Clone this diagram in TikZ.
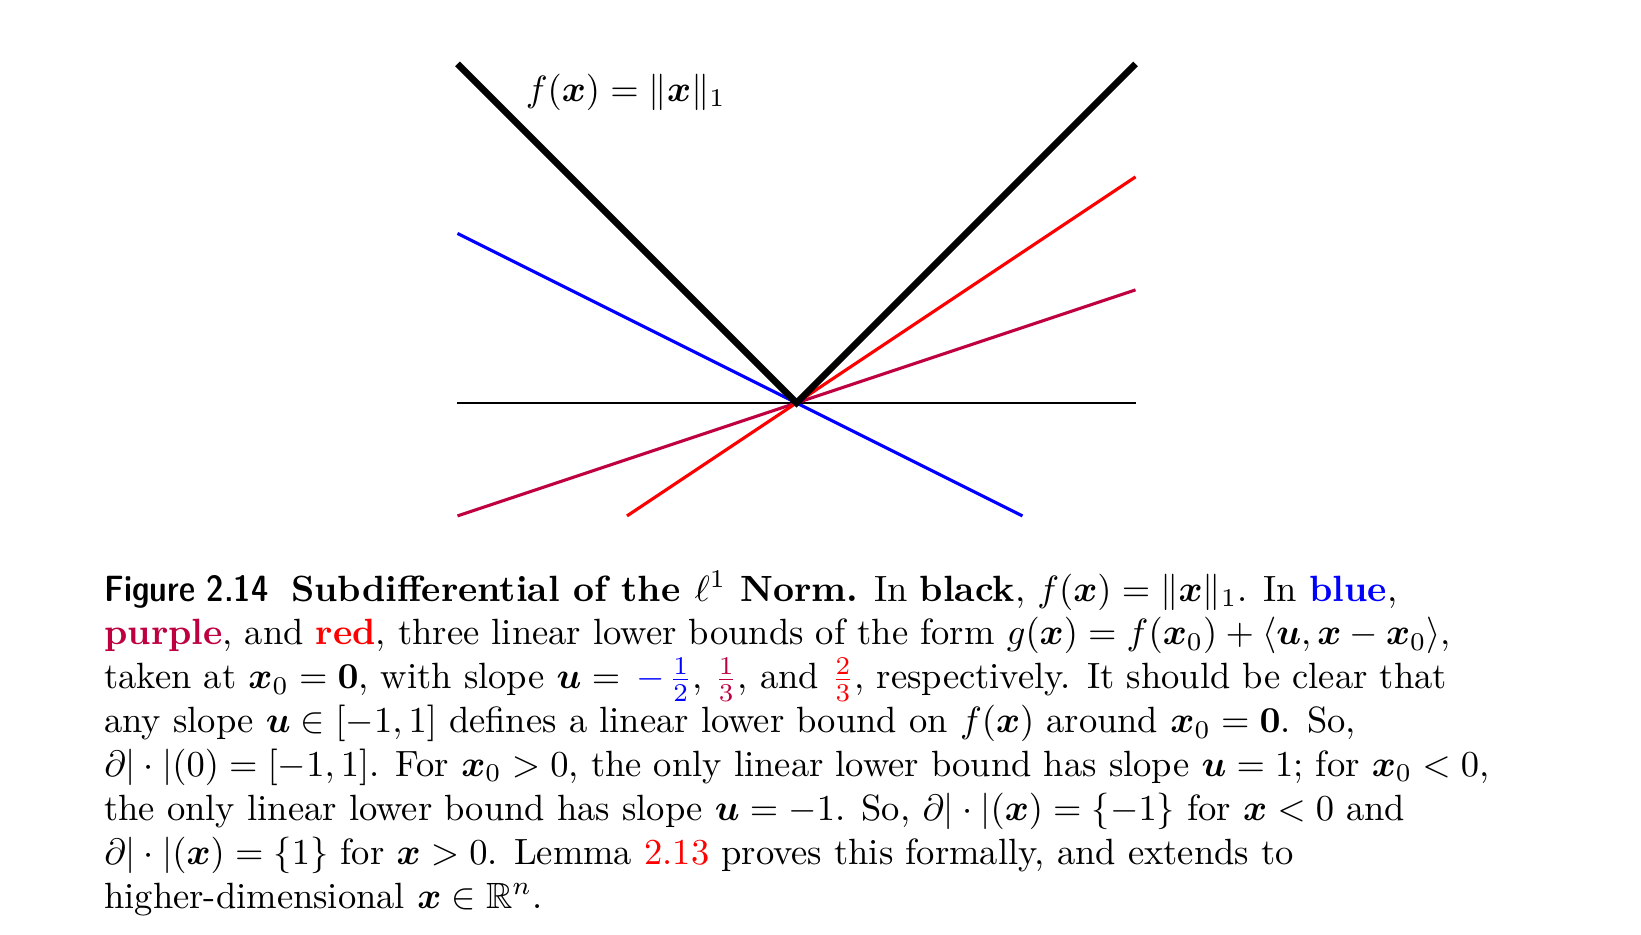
\documentclass[tikz,border=0pt]{standalone}
\usepackage{amsmath,amssymb,bm}
\usepackage{xcolor}
\definecolor{lbpurple}{rgb}{0.75,0,0.25}
\newcommand{\bx}{\bm{x}}
\newcommand{\bu}{\bm{u}}
\newcommand{\figlab}[1]{{\sffamily\fontseries{sbc}\selectfont #1}}
\begin{document}
\begin{tikzpicture}[x=0.2737pt,y=-0.2737pt,
  absline/.style={line width=1.8pt,black},
  bound/.style={line width=0.85pt},
  axisline/.style={line width=0.45pt,black},
  captext/.style={anchor=base west,align=left,inner sep=0pt,font=\fontsize{10}{12}\selectfont}]
\useasboundingbox (0,0) rectangle (1641,935);
\begin{scope}[shift={(796.5,402.9)},x=30.93pt,y=30.93pt]
  \coordinate (O) at (0,0);
  \coordinate (ax1) at (-3,0);
  \coordinate (ax2) at (3,0);
  \coordinate (fl) at (-3,3);
  \coordinate (fr) at (3,3);
  \coordinate (b1) at (-3,1.5);
  \coordinate (b2) at (2,-1);
  \coordinate (p1) at (-3,-1);
  \coordinate (p2) at (3,1);
  \coordinate (r1) at (-1.5,-1);
  \coordinate (r2) at (3,2);
  \draw[axisline] (ax1) -- (ax2);
  \draw[bound,blue] (b1) -- (b2);
  \draw[bound,lbpurple] (p1) -- (p2);
  \draw[bound,red] (r1) -- (r2);
  \draw[absline] (fl) -- (O) -- (fr);
  \node[font=\fontsize{10}{12}\selectfont] (flab) at (-1.51,2.75) {$f(\bx) = \|\bx\|_1$};
\end{scope}
\node[captext] (cap) at (103.6,908) {%
\figlab{Figure 2.14}\hspace{6.2pt}\textbf{Subdifferential of the $\ell^1$ Norm.} In \textbf{black}, $f(\bx) = \|\bx\|_1$. In \textbf{\color{blue}blue},\\
\textbf{\color{lbpurple}purple}, and \textbf{\color{red}red}, three linear lower bounds of the form $g(\bx) = f(\bx_0) + \langle \bu, \bx - \bx_0\rangle$,\\
taken at $\bx_0 = \mathbf{0}$, with slope $\bu = \mkern3mu{\color{blue}-\mkern2mu\frac{1}{2}}$, ${\color{lbpurple}\frac{1}{3}}$, and ${\color{red}\frac{2}{3}}$, respectively. It should be clear that\\
any slope $\bu \in [-1,1]$ defines a linear lower bound on $f(\bx)$ around $\bx_0 = \mathbf{0}$. So,\\
$\partial|\cdot|(0) = [-1,1]$. For $\bx_0 > 0$, the only linear lower bound has slope $\bu = 1$; for $\bx_0 < 0$,\\
the only linear lower bound has slope $\bu = -1$. So, $\partial|\cdot|(\bx) = \{-1\}$ for $\bx < 0$ and\\
$\partial|\cdot|(\bx) = \{1\}$ for $\bx > 0$. Lemma {\color{red}2.13} proves this formally, and extends to\\
higher-dimensional $\bx \in \mathbb{R}^n$.};
\end{tikzpicture}
\end{document}
